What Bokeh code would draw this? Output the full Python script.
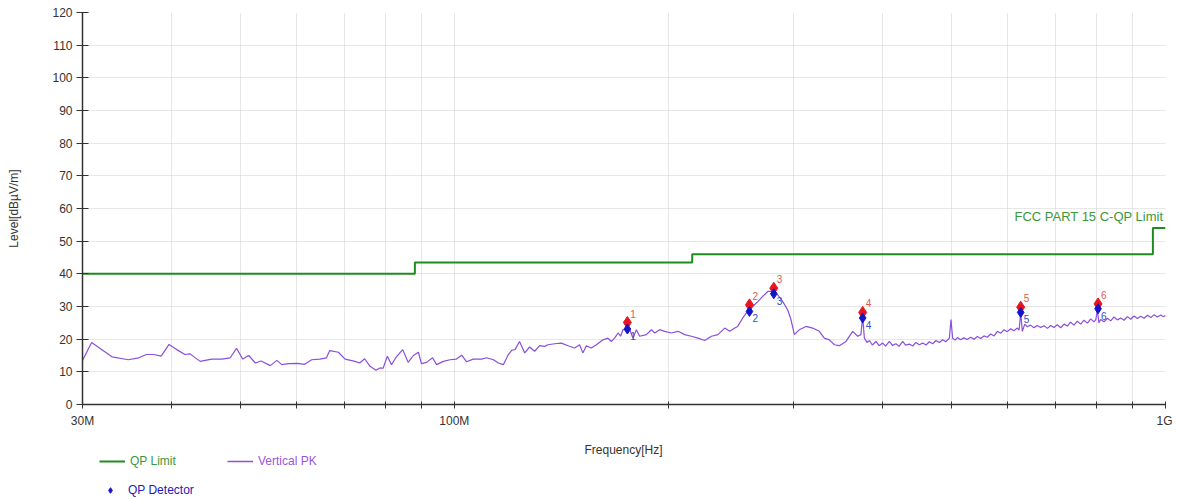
from bokeh.plotting import figure
from bokeh.layouts import column
from bokeh.models import (ColumnDataSource, FixedTicker, Legend, LegendItem, Label,
                          SingleIntervalTicker, Range1d)
from bokeh.core.properties import value
from bokeh.embed import file_html
from bokeh.resources import INLINE

# ---------------- data ----------------
trace_freq = [30.0, 30.9, 33.0, 34.8, 36.0, 36.9, 37.8, 38.7, 39.7, 40.7, 41.8, 42.5, 43.9, 45.6,
              47.1, 48.4, 49.4, 50.4, 51.4, 52.5, 53.5, 55.1, 56.3, 57.2, 58.5, 60.2, 61.6, 63.0,
              64.7, 66.1, 66.8, 68.7, 70.2, 72.5, 73.6, 74.8, 76.1, 77.6, 78.6, 79.4, 80.5, 81.6,
              82.9, 84.6, 86.1, 87.6, 89.0, 89.9, 91.4, 93.2, 94.4, 96.5, 98.6, 100.7, 102.4,
              104.0, 106.3, 109.2, 111.0, 113.5, 115.3, 117.2, 119.1, 120.4, 121.7, 123.5, 125.6,
              127.6, 129.7, 131.8, 134.0, 135.4, 138.4, 141.4, 144.5, 147.6, 150.0, 151.6, 153.3,
              155.8, 158.4, 161.8, 164.4, 166.3, 168.0, 169.9, 171.3, 172.6, 176.4, 178.3, 180.3,
              182.2, 186.2, 189.3, 191.3, 194.4, 197.6, 201.9, 206.3, 210.8, 215.4, 220.1, 224.9,
              229.9, 234.8, 240.0, 243.9, 247.9, 250.3, 254.4, 258.5, 262.8, 267.1, 271.4, 275.9,
              280.4, 284.9, 289.6, 294.2, 297.4, 300.7, 305.6, 312.2, 319.0, 326.0, 331.3, 336.8,
              342.3, 347.8, 355.4, 363.2, 369.1, 373.0, 375.1, 377.2, 380.5, 383.4, 387.0, 391.6,
              395.5, 400.2, 404.0, 409.0, 413.0, 417.8, 422.0, 427.0, 431.0, 436.4, 441.0, 445.8,
              450.5, 455.6, 460.5, 465.5, 470.5, 475.6, 481.0, 486.0, 491.0, 496.7, 499.3, 502.0,
              506.0, 509.7, 515.0, 520.7, 526.0, 532.2, 538.0, 543.8, 549.5, 555.6, 561.5, 567.8,
              574.0, 580.2, 586.5, 592.8, 599.0, 605.8, 612.0, 619.0, 622.5, 625.7, 629.1, 634.0,
              639.4, 646.0, 653.2, 660.0, 667.5, 675.0, 682.2, 689.5, 696.9, 704.5, 712.2, 720.0,
              727.8, 735.5, 743.6, 751.5, 759.9, 768.0, 776.6, 785.0, 793.3, 798.0, 802.1, 806.0,
              810.7, 819.5, 828.5, 837.5, 846.5, 855.5, 865.0, 874.5, 884.0, 893.5, 903.1, 913.0,
              922.9, 933.0, 943.2, 953.5, 963.6, 974.0, 984.7, 992.0, 1000.0]
trace_level = [13.5, 19.0, 14.6, 13.7, 14.3, 15.3, 15.3, 14.8, 18.4, 16.8, 15.3, 15.5, 13.2, 13.9,
               13.9, 14.3, 17.2, 13.9, 15.0, 12.7, 13.3, 11.9, 13.5, 12.2, 12.5, 12.6, 12.3, 13.7,
               13.9, 14.3, 16.5, 16.0, 13.9, 13.2, 12.7, 14.0, 11.7, 10.5, 11.2, 11.1, 14.8, 12.2,
               14.6, 16.8, 12.9, 15.0, 16.0, 12.5, 12.9, 14.3, 12.2, 13.2, 13.7, 13.9, 15.1,
               13.1, 13.9, 13.9, 14.3, 13.7, 12.7, 12.2, 15.3, 16.6, 16.8, 19.3, 15.8,
               17.6, 16.3, 18.0, 17.8, 18.3, 18.6, 18.8, 18.0, 17.3, 18.3, 15.8, 18.0,
               17.3, 18.3, 19.8, 20.3, 19.3, 20.3, 21.9, 20.9, 22.9, 23.1, 20.3, 22.9,
               20.9, 21.4, 22.9, 21.9, 22.9, 22.4, 21.9, 22.4, 21.4, 20.9, 20.3, 19.6,
               20.9, 21.4, 23.4, 22.4, 23.4, 23.9, 26.5, 28.5, 30.0, 31.5, 33.1, 34.6,
               34.6, 33.6, 31.5, 29.0, 26.0, 21.4, 22.9, 23.9, 23.4, 22.4, 20.3, 19.8,
               18.3, 18.0, 19.3, 22.4, 20.9, 21.4, 27.0, 20.3, 19.0, 19.6, 18.2, 19.3,
               18.0, 18.8, 17.9, 19.3, 18.1, 18.6, 17.8, 19.3, 18.2, 18.5, 17.9, 19.0,
               18.3, 18.8, 18.2, 19.2, 18.6, 19.6, 19.0, 19.8, 19.2, 20.3, 26.0, 20.3,
               19.7, 20.5, 19.8, 20.4, 19.9, 20.6, 20.0, 20.8, 20.2, 21.0, 20.6, 21.6,
               21.0, 22.4, 21.8, 22.9, 22.3, 23.2, 22.6, 23.4, 22.8, 28.0, 22.4, 24.6,
               23.8, 24.3, 23.5, 24.2, 23.6, 24.1, 23.3, 24.2, 23.6, 24.4, 23.5, 24.6,
               24.0, 25.2, 24.3, 25.5, 24.6, 25.8, 24.9, 26.2, 25.3, 26.0, 29.0, 25.0,
               26.0, 25.3, 26.4, 25.6, 26.8, 25.9, 26.5, 25.8, 26.9, 26.1, 27.1, 26.3,
               27.0, 26.4, 27.3, 26.6, 27.5, 26.8, 27.4, 26.9, 27.2]

limit_freq = [30.0, 88.0, 216.0, 960.0, 1000.0]
limit_level = [40.0, 43.5, 46.0, 54.0, 54.0]

peak_freq = [175.1, 260.0, 281.3, 375.1, 625.7, 803.8]
peak_level = [25.1, 30.5, 35.6, 28.2, 29.8, 30.8]
qp_level = [23.1, 28.5, 33.9, 26.5, 28.2, 29.3]
peak_labels = ["1", "2", "3", "4", "5", "6"]

x_ticks = [30, 40, 50, 60, 70, 80, 90, 100, 200, 300, 400, 500, 600, 700, 800, 900, 1000]
x_tick_text = {30: "30M", 100: "100M", 1000: "1G"}

# ---------------- styles ----------------
FONT = "Liberation Sans"
GREEN = "#1f8c1f"
PURPLE = "#8a4fdc"
BLUE = "#1414c8"
RED = "#e8141e"
W = 1172

p = figure(width=W, height=430, x_axis_type="log", x_range=(30, 1000), y_range=(0, 120),
           output_backend="svg", toolbar_location=None,
           min_border_left=82, min_border_right=7, min_border_top=12, min_border_bottom=25)
p.outline_line_color = None

p.xaxis.ticker = FixedTicker(ticks=x_ticks)
p.xaxis.major_label_overrides = {t: x_tick_text.get(t, "") for t in x_ticks}
p.xaxis.minor_tick_line_color = None
p.yaxis.ticker = SingleIntervalTicker(interval=10)
p.yaxis.minor_tick_line_color = None

for ax in (p.xaxis, p.yaxis):
    ax.axis_line_color = "#333333"
    ax.axis_line_width = 1.5
    ax.major_tick_line_color = "#333333"
    ax.major_label_text_font = FONT
    ax.major_label_text_font_size = "12px"
    ax.major_label_text_color = "#333333"
    ax.axis_label_text_font = FONT
    ax.axis_label_text_font_size = "12px"
    ax.axis_label_text_font_style = "normal"
    ax.axis_label_text_color = "#333333"

p.xaxis.major_tick_in = 3
p.xaxis.major_tick_out = 4
p.xaxis.major_label_standoff = 5
p.yaxis.major_tick_in = 6
p.yaxis.major_tick_out = 6
p.yaxis.major_label_standoff = 4
p.yaxis.axis_label = "Level[dBµV/m]"
p.yaxis.axis_label_standoff = 28

p.xgrid.ticker = FixedTicker(ticks=x_ticks)
p.grid.grid_line_color = "#cfcfcf"
p.grid.grid_line_dash = "1 1"
p.grid.grid_line_width = 1

r_lim = p.step(limit_freq, limit_level, mode="after", line_color=GREEN, line_width=2)
r_tr = p.line(trace_freq, trace_level, line_color=PURPLE, line_width=1.2)

src = ColumnDataSource(dict(f=peak_freq, pk=peak_level, qp=qp_level, lab=peak_labels))
p.scatter("f", "pk", source=src, marker="diamond", size=12, fill_color=RED, line_color=RED)
p.scatter("f", "qp", source=src, marker="diamond", size=10, fill_color=BLUE, line_color=BLUE)
p.text("f", "pk", text="lab", source=src, x_offset=3, y_offset=-5, text_font=value(FONT),
       text_font_size="10px", text_color="#e05a4a", text_baseline="bottom")
p.text("f", "qp", text="lab", source=src, x_offset=3, y_offset=3, text_font=value(FONT),
       text_font_size="10px", text_color="#3050c0", text_baseline="top")

p.add_layout(Label(x=1000, y=57.4, x_offset=-2, text="FCC PART 15 C-QP Limit", text_align="right",
                   text_baseline="middle", text_font=FONT, text_font_size="13px",
                   text_color="#3c963c"))

# ---------------- legend strip ----------------
# (its frame is aligned with the main frame by the column layout, so it starts at x=82)
lg = figure(width=W, height=69, x_range=Range1d(0, 1), y_range=Range1d(0, 1),
            output_backend="svg", toolbar_location=None,
            min_border_left=82, min_border_right=7, min_border_top=0, min_border_bottom=0)
lg.axis.visible = False
lg.grid.visible = False
lg.outline_line_color = None

# proxy renderers (data lies outside the strip's range, only their legend swatches show)
d_lim = lg.line([-5, -4], [-5, -4], line_color=GREEN, line_width=2)
d_tr = lg.line([-5, -4], [-5, -4], line_color=PURPLE, line_width=1.5)
d_qp = lg.scatter([-5], [-5], marker="diamond", size=8, fill_color=BLUE, line_color=BLUE)

lg.add_layout(Label(x=541, y=50, x_units="screen", y_units="screen", text="Frequency[Hz]",
                    text_align="center", text_baseline="middle", text_font=FONT,
                    text_font_size="12px", text_color="#333333"))

def make_legend(item, x, y, color):
    leg = Legend(items=[item], location=(x, y), orientation="horizontal",
                 label_text_font=FONT, label_text_font_size="12px", label_text_color=color,
                 glyph_width=26, glyph_height=14, label_standoff=5, padding=0, margin=0,
                 border_line_color=None, background_fill_alpha=0, spacing=0)
    lg.add_layout(leg, "center")

make_legend(LegendItem(label="QP Limit", renderers=[d_lim]), 17, 31, "#3c963c")
make_legend(LegendItem(label="Vertical PK", renderers=[d_tr]), 145, 31, "#9a55dd")
make_legend(LegendItem(label="QP Detector", renderers=[d_qp]), 15, 2, "#2020b0")

open("out.html", "w").write(file_html(column(p, lg, spacing=0), INLINE))
